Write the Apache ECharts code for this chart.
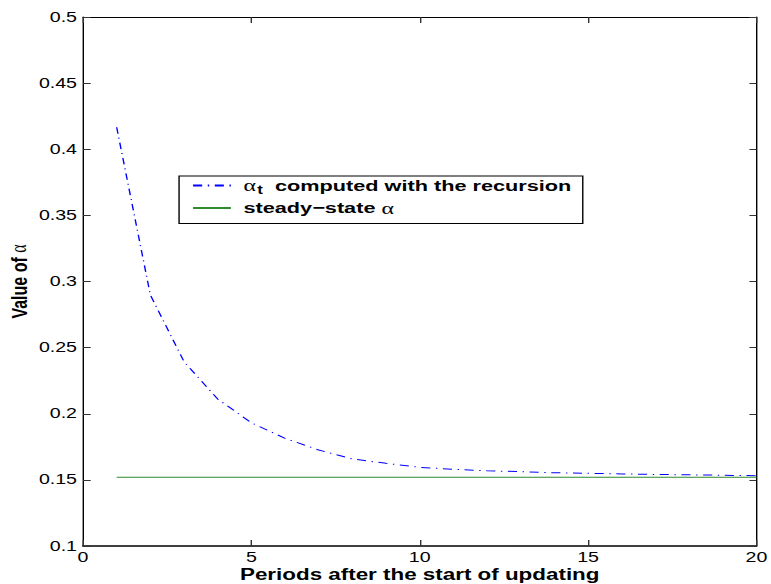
<!DOCTYPE html>
<html>
<head>
<meta charset="utf-8">
<script src="https://cdn.jsdelivr.net/npm/echarts@6/dist/echarts.min.js"></script>
<style>
html,body{margin:0;padding:0;background:#fff;overflow:hidden}
#wrap{width:771px;height:584px;overflow:hidden;position:relative}
#c{width:551px;height:584px;transform-origin:0 0;transform:scaleX(1.4);position:absolute;left:0;top:0}
</style>
</head>
<body>
<div id="wrap"><div id="c"></div></div>
<script>
// Data
var periods = [1,2,3,4,5,6,7,8,9,10,11,12,13,14,15,16,17,18,19,20];
var alphaRecursion = [0.4166,0.2898,0.2394,0.2111,0.1932,0.1814,0.1726,0.1658,0.1625,0.1595,0.1580,0.1569,0.1562,0.1554,0.1550,0.1545,0.1541,0.1538,0.1535,0.1532];
var steadyStateAlpha = 0.152;
var xTicks = [0,5,10,15,20];
var yTicks = [0.1,0.15,0.2,0.25,0.3,0.35,0.4,0.45,0.5];
var seriesNames = ['alpha_t','steady'];

var recData = periods.map(function(p,i){return [p, alphaRecursion[i]];});
var ssData = periods.map(function(p){return [p, steadyStateAlpha];});

var chart = echarts.init(document.getElementById('c'), null, {renderer: 'svg'});
var font = 'Liberation Sans, Arial, sans-serif';
function fmtY(v){ return (Math.round(v*100)/100).toString(); }
var option = {
  backgroundColor: '#fff',
  animation: false,
  grid: {left: 59.3, right: 10.7, top: 17, bottom: 38, outerBoundsMode: 'none', containLabel: false},
  legend: {
    orient: 'vertical',
    left: 127.9, top: 176,
    padding: [1, 8, 7, 9],
    itemGap: 4,
    itemWidth: 27, itemHeight: 14,
    borderColor: '#000', borderWidth: 1,
    backgroundColor: '#fff',
    itemStyle: {opacity: 0},
    data: seriesNames,
    formatter: function(name){
      if (name === 'alpha_t') return '{a|α}{s|t}{b|  computed with the recursion}';
      return '{c|steady−state }{d|α}';
    },
    textStyle: {
      fontFamily: font, fontSize: 15.5, fontWeight: 'bold', color: '#000',
      rich: {
        a: {fontFamily: 'Liberation Serif, serif', fontSize: 17, fontWeight: 'normal', color: '#000', padding: [0,0,0,4]},
        s: {fontFamily: font, fontSize: 12, fontWeight: 'bold', color: '#000', padding: [8,0,0,1]},
        b: {fontFamily: font, fontSize: 15.5, fontWeight: 'bold', color: '#000'},
        c: {fontFamily: font, fontSize: 15.5, fontWeight: 'bold', color: '#000', padding: [0,0,0,4]},
        d: {fontFamily: 'Liberation Serif, serif', fontSize: 17, fontWeight: 'normal', color: '#000'}
      }
    }
  },
  xAxis: [{
    type: 'value', min: 0, max: 20, interval: 5,
    name: 'Periods after the start of updating',
    nameLocation: 'middle', nameGap: 20.5, nameMoveOverlap: false,
    nameTextStyle: {fontFamily: font, fontSize: 16, lineHeight: 16, fontWeight: 'bold', color: '#000'},
    axisLine: {onZero: false, lineStyle: {color: '#000', width: 1.5}},
    axisTick: {inside: true, length: 6, lineStyle: {color: '#333'}},
    axisLabel: {fontFamily: font, fontSize: 14, lineHeight: 12, color: '#000', margin: 5.5},
    splitLine: {show: false}
  },{
    type: 'value', min: 0, max: 20, interval: 5, position: 'top',
    axisLine: {onZero: false, lineStyle: {color: '#000', width: 1}},
    axisTick: {inside: true, length: 6, lineStyle: {color: '#333'}},
    axisLabel: {show: false}, splitLine: {show: false}
  }],
  yAxis: [{
    type: 'value', min: 0.1, max: 0.5, interval: 0.05,
    name: '{b|Value of }{a|α}',
    nameLocation: 'middle', nameGap: 38, nameRotate: 90, nameMoveOverlap: false,
    nameTextStyle: {
      rich: {
        b: {fontFamily: font, fontSize: 16, fontWeight: 'bold', color: '#000'},
        a: {fontFamily: 'Liberation Serif, serif', fontSize: 16, color: '#000'}
      }
    },
    axisLine: {onZero: false, lineStyle: {color: '#000', width: 1}},
    axisTick: {inside: true, length: 5.5, lineStyle: {color: '#333'}},
    axisLabel: {fontFamily: font, fontSize: 14, color: '#000', margin: 4.3, formatter: fmtY},
    splitLine: {show: false}
  },{
    type: 'value', min: 0.1, max: 0.5, interval: 0.05, position: 'right',
    axisLine: {onZero: false, lineStyle: {color: '#000', width: 1}},
    axisTick: {inside: true, length: 5, lineStyle: {color: '#333'}},
    axisLabel: {show: false}, splitLine: {show: false}
  }],
  series: [{
    name: 'alpha_t', type: 'line', data: recData,
    showSymbol: false, symbol: 'none',
    lineStyle: {color: '#0000ff', width: 1, type: [6.5, 4, 1, 4]},
    itemStyle: {color: '#0000ff'}
  },{
    name: 'steady', type: 'line', data: ssData,
    showSymbol: false, symbol: 'none',
    lineStyle: {color: '#2e8b2e', width: 1},
    itemStyle: {color: '#2e8b2e'}
  }]
};
chart.setOption(option);
</script>
</body>
</html>
